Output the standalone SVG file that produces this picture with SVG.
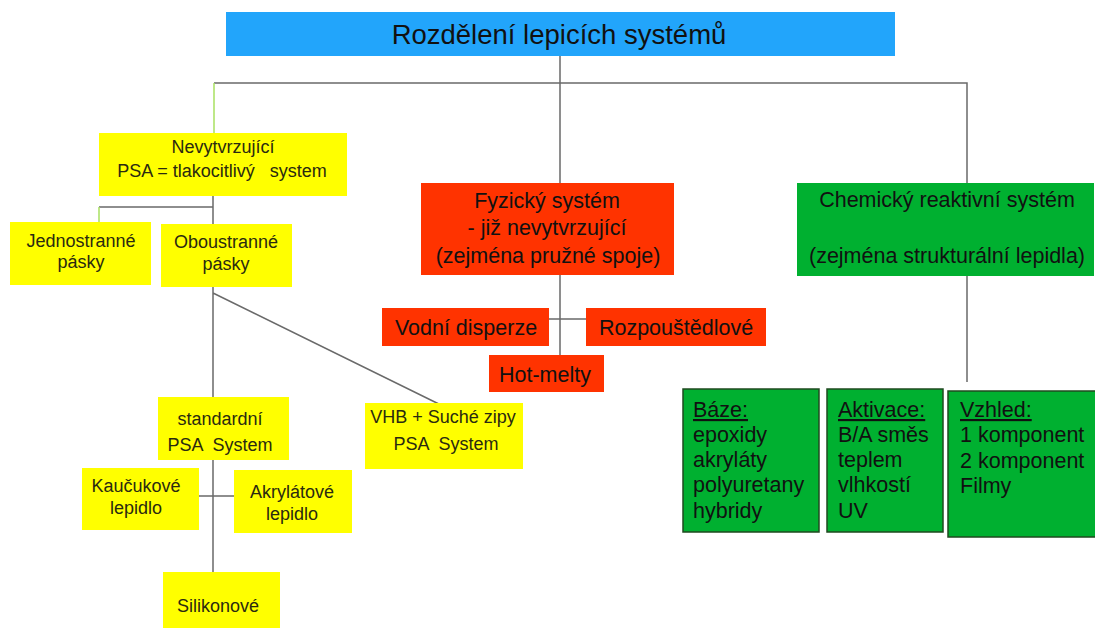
<svg xmlns="http://www.w3.org/2000/svg" width="1095" height="630" viewBox="0 0 1095 630">
<style>
text{font-family:"Liberation Sans",Arial,sans-serif;fill:#111}
.c{text-anchor:middle}
.y{fill:#ffff00}
.r{fill:#ff3300}
.g{fill:#00b030}
.gb{fill:#00b030;stroke:#1f4a1f;stroke-width:1.5}
.s{font-size:18px;fill:#2a2a10}
.m{font-size:21.5px}
.l{stroke:#6a6a6a;stroke-width:1.5;fill:none}
.lg{stroke:#a8e060;stroke-width:1.5;fill:none}
.u{text-decoration:underline}
</style>
<rect width="1095" height="630" fill="#fff"/>
<g id="connectors">
<path class="l" d="M560 56V355M214 83H967V183M967 276V382"/>
<path class="lg" d="M214 83V133"/>
<path class="l" d="M213 196V397M99 207H213M213 460V572M199 496H234M213 293L447 408M549 319H586"/>
<path class="lg" d="M99 207V222"/>
</g>
<g id="title"><rect x="226" y="12" width="669" height="44" fill="#22a5fb"/><text class="c" x="559" y="44" font-size="27.5px">Rozdělení lepicích systémů</text></g>
<g id="nevytvrzujici"><rect class="y" x="99" y="133" width="248" height="63"/><text class="c s" x="223" y="153">Nevytvrzující</text><text class="c s" x="222" y="177" xml:space="preserve">PSA = tlakocitlivý   system</text></g>
<g id="jednostranne"><rect class="y" x="10" y="222" width="141" height="63"/><text class="c s" x="81" y="247">Jednostranné</text><text class="c s" x="81" y="268">pásky</text></g>
<g id="oboustranne"><rect class="y" x="161" y="224" width="131" height="63"/><text class="c s" x="226" y="248">Oboustranné</text><text class="c s" x="226" y="270">pásky</text></g>
<g id="standardni"><rect class="y" x="158" y="397" width="131" height="63"/><text class="c s" x="220" y="425">standardní</text><text class="c s" x="220" y="451" xml:space="preserve">PSA  System</text></g>
<g id="kaucukove"><rect class="y" x="82" y="468" width="117" height="62"/><text class="c s" x="136" y="492">Kaučukové</text><text class="c s" x="136" y="514">lepidlo</text></g>
<g id="akrylatove"><rect class="y" x="234" y="470" width="118" height="63"/><text class="c s" x="292" y="498">Akrylátové</text><text class="c s" x="292" y="520">lepidlo</text></g>
<g id="silikonove"><rect class="y" x="163" y="572" width="117" height="56"/><text class="c s" x="218" y="612">Silikonové</text></g>
<g id="vhb"><rect class="y" x="365" y="403" width="158" height="66"/><text class="c s" x="443" y="423">VHB + Suché zipy</text><text class="c s" x="446" y="450" xml:space="preserve">PSA  System</text></g>
<g id="fyzicky"><rect class="r" x="421" y="183" width="253" height="92"/><text class="c m" x="547" y="208">Fyzický systém</text><text class="c m" x="547" y="235">- již nevytvrzující</text><text class="c m" x="548" y="263">(zejména pružné spoje)</text></g>
<g id="vodni"><rect class="r" x="382" y="308" width="167" height="38"/><text class="c m" x="466" y="335">Vodní disperze</text></g>
<g id="rozpoustedlove"><rect class="r" x="586" y="308" width="180" height="38"/><text class="c m" x="676" y="335">Rozpouštědlové</text></g>
<g id="hotmelty"><rect class="r" x="489" y="355" width="115" height="37"/><text class="c m" x="545" y="382">Hot-melty</text></g>
<g id="chemicky"><rect class="g" x="797" y="183" width="297" height="93"/><text class="c m" x="947" y="207">Chemický reaktivní systém</text><text class="c m" x="947" y="263">(zejména strukturální lepidla)</text></g>
<g id="baze"><rect class="gb" x="683" y="389" width="136" height="143"/><text class="m u" x="693" y="417">Báze:</text><text class="m" x="693" y="442">epoxidy</text><text class="m" x="693" y="467">akryláty</text><text class="m" x="693" y="492">polyuretany</text><text class="m" x="693" y="518">hybridy</text></g>
<g id="aktivace"><rect class="gb" x="827" y="389" width="116" height="143"/><text class="m u" x="838" y="417">Aktivace:</text><text class="m" x="838" y="442">B/A směs</text><text class="m" x="838" y="467">teplem</text><text class="m" x="838" y="492">vlhkostí</text><text class="m" x="838" y="518">UV</text></g>
<g id="vzhled"><rect class="gb" x="948" y="391" width="150" height="146"/><text class="m u" x="960" y="417">Vzhled:</text><text class="m" x="960" y="442">1 komponent</text><text class="m" x="960" y="468">2 komponent</text><text class="m" x="960" y="493">Filmy</text></g>
</svg>
